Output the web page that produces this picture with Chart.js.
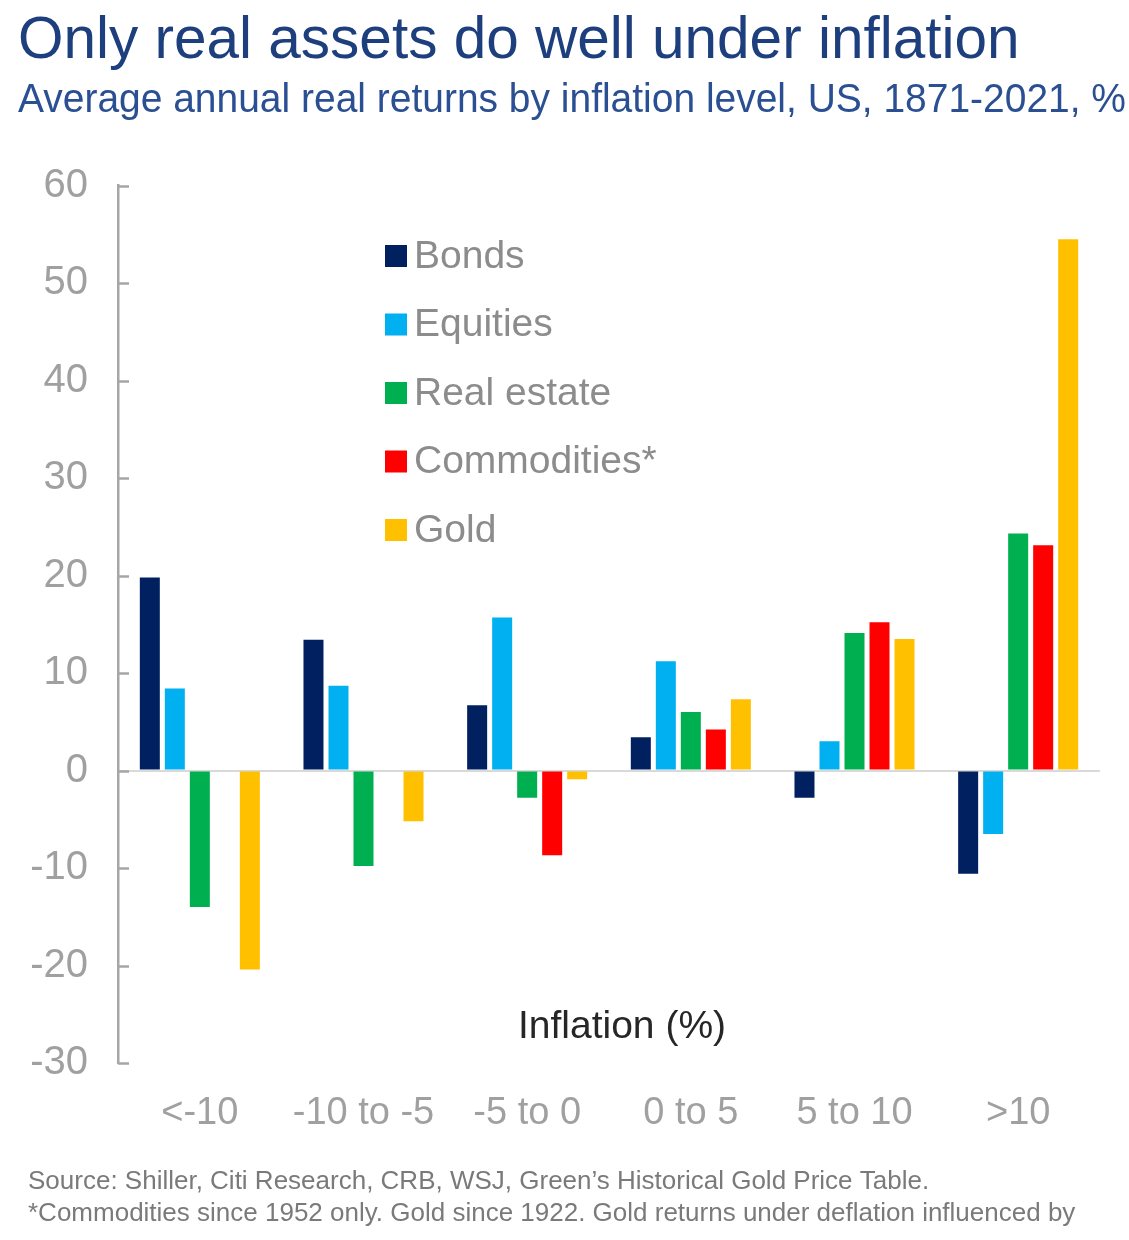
<!DOCTYPE html>
<html>
<head>
<meta charset="utf-8">
<script src="https://cdn.jsdelivr.net/npm/chart.js@4.4.1/dist/chart.umd.min.js"></script>
<style>
  html, body { margin: 0; padding: 0; background: #ffffff; }
  #wrap { width: 1129px; height: 1240px; position: relative; }
  canvas { display: block; }
</style>
</head>
<body>
<div id="wrap"><canvas id="c" width="1129" height="1240"></canvas></div>
<script>
const categories = ['<-10', '-10 to -5', '-5 to 0', '0 to 5', '5 to 10', '>10'];
const bonds       = [19.8, 13.4, 6.7, 3.4, -2.8, -10.6];
const equities    = [8.4, 8.7, 15.7, 11.2, 3.0, -6.5];
const realEstate  = [-14.0, -9.8, -2.8, 6.0, 14.1, 24.3];
const commodities = [null, null, -8.7, 4.2, 15.2, 23.1];
const gold        = [-20.4, -5.2, -0.9, 7.3, 13.5, 54.5];
const yTicks      = [60, 50, 40, 30, 20, 10, 0, -10, -20, -30];

const FONT = "'Liberation Sans', Arial, Helvetica, sans-serif";

const extras = {
  id: 'extras',
  afterDraw(chart) {
    const ctx = chart.ctx;
    const y = chart.scales.y;
    const area = chart.chartArea;
    ctx.save();
    // inward tick marks on y axis
    ctx.strokeStyle = '#a6a6a6';
    ctx.lineWidth = 2.5;
    yTicks.forEach(v => {
      const py = Math.round(y.getPixelForValue(v)) + 0.5;
      ctx.beginPath();
      ctx.moveTo(area.left, py);
      ctx.lineTo(area.left + 11, py);
      ctx.stroke();
    });
    // legend
    ctx.textBaseline = 'middle';
    ctx.textAlign = 'left';
    ctx.font = '39px ' + FONT;
    chart.data.datasets.forEach((ds, i) => {
      const cy = 256 + i * 68.5;
      ctx.fillStyle = ds.backgroundColor;
      ctx.fillRect(385, cy - 11, 22, 22);
      ctx.fillStyle = '#8c8c8c';
      ctx.fillText(ds.label, 414, cy + 1);
    });
    // axis caption
    ctx.fillStyle = '#262626';
    ctx.textAlign = 'center';
    ctx.font = '39px ' + FONT;
    ctx.textBaseline = 'alphabetic';
    ctx.fillText('Inflation (%)', 622, 1038);
    // footnotes
    ctx.fillStyle = '#7a7a7a';
    ctx.textAlign = 'left';
    ctx.font = '26px ' + FONT;
    ctx.fillText("Source: Shiller, Citi Research, CRB, WSJ, Green\u2019s Historical Gold Price Table.", 28, 1189);
    ctx.fillText("*Commodities since 1952 only. Gold since 1922. Gold returns under deflation influenced by", 28, 1221);
    ctx.restore();
  }
};

new Chart(document.getElementById('c'), {
  type: 'bar',
  data: {
    labels: categories,
    datasets: [
      { label: 'Bonds', data: bonds, backgroundColor: '#002060' },
      { label: 'Equities', data: equities, backgroundColor: '#00b0f0' },
      { label: 'Real estate', data: realEstate, backgroundColor: '#00b050' },
      { label: 'Commodities*', data: commodities, backgroundColor: '#ff0000' },
      { label: 'Gold', data: gold, backgroundColor: '#ffc000' }
    ]
  },
  options: {
    responsive: false,
    animation: false,
    devicePixelRatio: 1,
    layout: { padding: { left: 18, right: 3, top: 0, bottom: 0 } },
    datasets: { bar: { categoryPercentage: 0.764, barPercentage: 0.8 } },
    plugins: {
      legend: { display: false },
      tooltip: { enabled: false },
      title: {
        display: true,
        text: 'Only real assets do well under inflation',
        align: 'start',
        color: '#1d3f7d',
        font: { family: FONT, size: 58.5, weight: 'normal', lineHeight: 1 },
        padding: { top: 13, bottom: 0 }
      },
      subtitle: {
        display: true,
        text: 'Average annual real returns by inflation level, US, 1871-2021, %',
        align: 'start',
        color: '#2a4f92',
        font: { family: FONT, size: 41, weight: 'normal', lineHeight: 1 },
        padding: { top: 9, bottom: 64 }
      }
    },
    scales: {
      x: {
        grid: { display: false, drawTicks: false },
        border: { display: false },
        ticks: { color: '#a0a0a0', font: { family: FONT, size: 38 }, padding: 28, maxRotation: 0 },
        afterFit(s) { s.height = 177; }
      },
      y: {
        min: -30, max: 60,
        afterBuildTicks(s) { s.ticks = yTicks.map(v => ({ value: v })); },
        grid: {
          drawTicks: false,
          lineWidth: 2,
          color: c => (c.tick && c.tick.value === 0) ? '#d9d9d9' : 'rgba(0,0,0,0)'
        },
        border: { display: true, color: '#a6a6a6', width: 2.5 },
        ticks: { color: '#a0a0a0', font: { family: FONT, size: 40 }, padding: 30 },
        afterFit(s) { s.width = 100; }
      },
      yRight: {
        position: 'right',
        display: true,
        min: -30, max: 60,
        grid: { display: false, drawTicks: false },
        border: { display: false },
        ticks: { display: false },
        afterFit(s) { s.width = 26; }
      }
    }
  },
  plugins: [extras]
});
</script>
</body>
</html>
